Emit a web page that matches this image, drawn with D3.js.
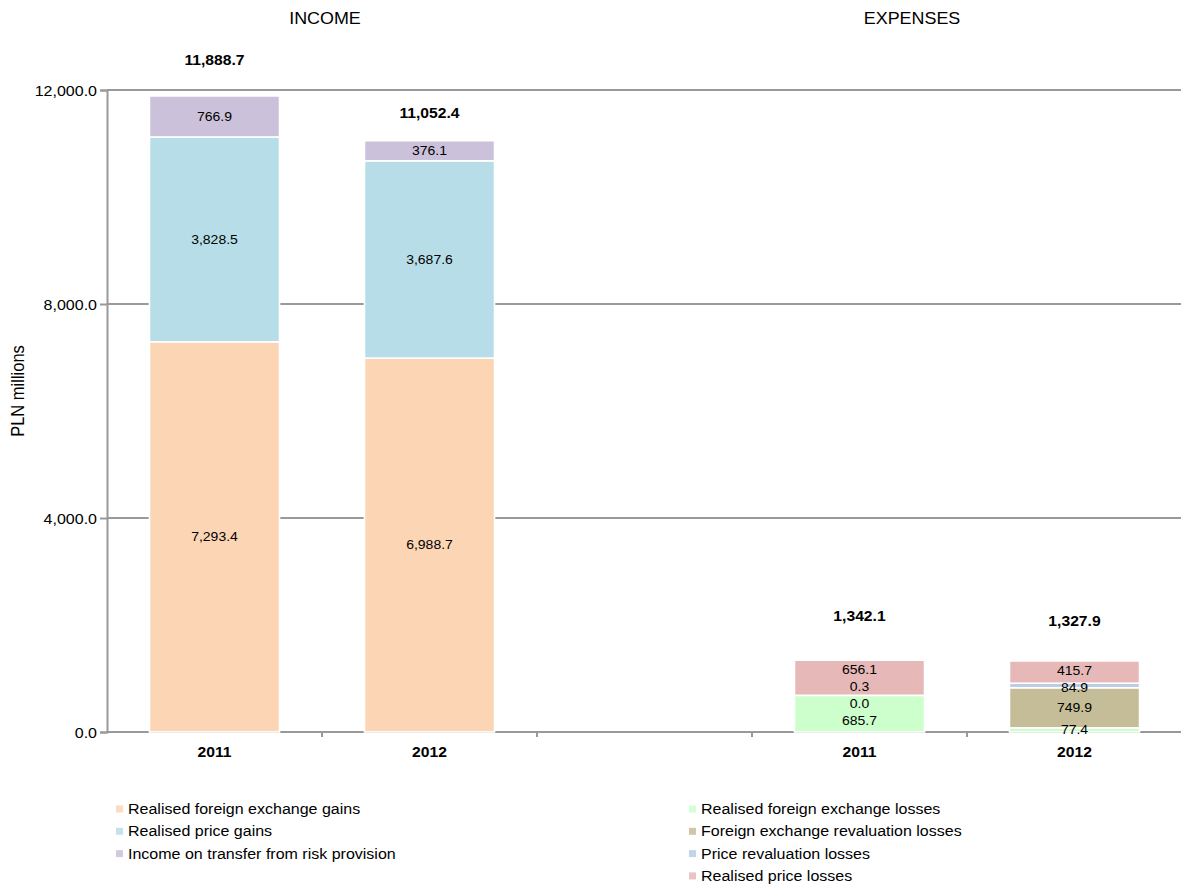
<!DOCTYPE html>
<html>
<head>
<meta charset="utf-8">
<script src="https://cdn.jsdelivr.net/npm/d3@7"></script>
<style>
  html, body { margin: 0; padding: 0; background: #fff; }
  svg { display: block; }
  text { font-family: "Liberation Sans", Arial, sans-serif; fill: #000; }
</style>
</head>
<body>
<svg id="chart" width="1181" height="887"></svg>
<script>
// ---- data (PLN millions) ----
const years = ["2011", "2012"];

const incomeSeries = [
  "Realised foreign exchange gains",
  "Realised price gains",
  "Income on transfer from risk provision"
];
const realisedFxGains     = [7293.4, 6988.7];
const realisedPriceGains  = [3828.5, 3687.6];
const riskProvisionIncome = [766.9, 376.1];
const incomeTotals        = [11888.7, 11052.4];

const expenseSeries = [
  "Realised foreign exchange losses",
  "Foreign exchange revaluation losses",
  "Price revaluation losses",
  "Realised price losses"
];
const realisedFxLosses       = [685.7, 77.4];
const fxRevaluationLosses    = [0.0, 749.9];
const priceRevaluationLosses = [0.3, 84.9];
const realisedPriceLosses    = [656.1, 415.7];
const expenseTotals          = [1342.1, 1327.9];

const groupTitles = ["INCOME", "EXPENSES"];
const yTicks = [0, 4000, 8000, 12000];
const yTitle = "PLN millions";

// ---- styling / layout ----
const incomeColors  = ["#FCD5B5", "#B7DEE8", "#CCC1DA"];
const expenseColors = ["#CCFFCC", "#C4BD97", "#B9CDE5", "#E6B9B8"];
const TEXT_STRETCH = 1.12;          // glyphs are drawn slightly wide
const totalLabelLift = [36, 27, 44, 40]; // px above each stack top
const titleX = [325, 912];
const labelGap = 17;                // min spacing of in-bar labels

const svg = d3.select("#chart");
const W = 1181, H = 887;
const plot = { left: 107, right: 1182, top: 90, bottom: 732 };

// one slot per bar, plus an empty slot separating income and expenses
const slots = [
  ...years.map((y, i) => ({ key: "inc-" + y, year: y, idx: i, group: "income" })),
  { key: "gap", group: null },
  ...years.map((y, i) => ({ key: "exp-" + y, year: y, idx: i, group: "expense" }))
];

const x = d3.scaleBand()
  .domain(slots.map(s => s.key))
  .range([plot.left, plot.right])
  .paddingInner(0.395)
  .paddingOuter(0.1975);

const y = d3.scaleLinear().domain([0, 12000]).range([plot.bottom, plot.top]);

const fmt = d3.format(",.1f");

function stretchedText(sel, tx, ty, extra) {
  return sel.attr("transform", `translate(${tx},${ty}) scale(${TEXT_STRETCH},1)` + (extra || ""));
}

// ---- gridlines & axes ----
const gridColor = "#999999";
svg.append("g").selectAll("line.grid")
  .data(yTicks.filter(t => t > 0))
  .join("line")
  .attr("x1", plot.left).attr("x2", W)
  .attr("y1", d => y(d)).attr("y2", d => y(d))
  .attr("stroke", gridColor).attr("stroke-width", 2);

const yAxis = d3.axisLeft(y).tickValues(yTicks).tickFormat(fmt).tickSize(7).tickPadding(4);
const yG = svg.append("g").attr("transform", `translate(${plot.left},0)`).call(yAxis);
yG.attr("font-family", null).attr("font-size", null);
yG.select(".domain").attr("stroke", gridColor).attr("stroke-width", 2);
yG.selectAll(".tick line").attr("stroke", gridColor).attr("stroke-width", 2);
yG.selectAll(".tick text")
  .attr("x", null).attr("dy", null)
  .attr("text-anchor", "end").attr("dominant-baseline", "central")
  .style("font-size", "14.3px")
  .attr("transform", `translate(-10,0) scale(${TEXT_STRETCH},1)`);

// x baseline + tick marks at slot boundaries
svg.append("line")
  .attr("x1", plot.left).attr("x2", W)
  .attr("y1", plot.bottom).attr("y2", plot.bottom)
  .attr("stroke", gridColor).attr("stroke-width", 2);
svg.append("g").selectAll("line")
  .data(slots.slice(1))
  .join("line")
  .attr("x1", d => x(d.key) - x.step() * x.paddingInner() / 2)
  .attr("x2", d => x(d.key) - x.step() * x.paddingInner() / 2)
  .attr("y1", plot.bottom).attr("y2", plot.bottom + 5)
  .attr("stroke", gridColor).attr("stroke-width", 2);

// x category labels
svg.append("g").selectAll("text")
  .data(slots.filter(s => s.group))
  .join("text")
  .each(function (d) { stretchedText(d3.select(this), x(d.key) + x.bandwidth() / 2, 752); })
  .attr("text-anchor", "middle").attr("dominant-baseline", "central")
  .style("font-size", "14px").style("font-weight", "bold")
  .text(d => d.year);

// y axis title
svg.append("text")
  .attr("transform", `translate(18,391) scale(${TEXT_STRETCH},1) rotate(-90)`)
  .attr("text-anchor", "middle").attr("dominant-baseline", "central")
  .style("font-size", "16.5px")
  .text(yTitle);

// group titles
svg.append("g").selectAll("text")
  .data(groupTitles)
  .join("text")
  .each(function (d, i) { stretchedText(d3.select(this), titleX[i], 19); })
  .attr("text-anchor", "middle").attr("dominant-baseline", "central")
  .style("font-size", "16px")
  .text(d => d);

// ---- stacked bars ----
const incomeValues  = [realisedFxGains, realisedPriceGains, riskProvisionIncome];
const expenseValues = [realisedFxLosses, fxRevaluationLosses, priceRevaluationLosses, realisedPriceLosses];

function buildStacks(group, valuesBySeries, colors, totals) {
  return years.map((yr, i) => {
    let base = 0;
    const segs = valuesBySeries.map((vals, s) => {
      const seg = { y0: base, y1: base + vals[i], value: vals[i], color: colors[s] };
      base += vals[i];
      return seg;
    });
    return { key: (group === "income" ? "inc-" : "exp-") + yr, segs, top: base, total: totals[i] };
  });
}

const stacks = [
  ...buildStacks("income", incomeValues, incomeColors, incomeTotals),
  ...buildStacks("expense", expenseValues, expenseColors, expenseTotals)
];

// spread in-bar labels so neighbours never collide (cluster merging)
function spreadLabels(centers, gap) {
  // centers are in screen y, bottom segment first (largest y)
  let clusters = centers.map((c, i) => ({ ids: [i], mean: c }));
  const pos = cl => cl.ids.map((_, k) => cl.mean + ((cl.ids.length - 1) / 2 - k) * gap);
  let merged = true;
  while (merged) {
    merged = false;
    for (let k = 0; k < clusters.length - 1; k++) {
      const a = clusters[k], b = clusters[k + 1];
      const pa = pos(a), pb = pos(b);
      if (pa[pa.length - 1] - pb[0] < gap) {
        const ids = a.ids.concat(b.ids);
        const mean = d3.mean(ids, id => centers[id]);
        clusters.splice(k, 2, { ids, mean });
        merged = true;
        break;
      }
    }
  }
  const out = [];
  clusters.forEach(cl => pos(cl).forEach((p, k) => { out[cl.ids[k]] = p; }));
  return out;
}

const barG = svg.append("g");
stacks.forEach((st, si) => {
  const g = barG.append("g");
  g.selectAll("rect")
    .data(st.segs)
    .join("rect")
    .attr("x", x(st.key))
    .attr("width", x.bandwidth())
    .attr("y", d => y(d.y1))
    .attr("height", d => y(d.y0) - y(d.y1))
    .attr("fill", d => d.color)
    .attr("stroke", "#ffffff")
    .attr("stroke-width", 1.6);

  const centers = st.segs.map(d => (y(d.y0) + y(d.y1)) / 2);
  const ly = spreadLabels(centers, labelGap);
  const cx = x(st.key) + x.bandwidth() / 2;
  g.selectAll("text.seg")
    .data(st.segs)
    .join("text")
    .attr("class", "seg")
    .each(function (d, i) { stretchedText(d3.select(this), cx, ly[i]); })
    .attr("text-anchor", "middle").attr("dominant-baseline", "central")
    .style("font-size", "12.5px")
    .text(d => fmt(d.value));

  stretchedText(g.append("text"), cx, y(st.top) - totalLabelLift[si])
    .attr("text-anchor", "middle").attr("dominant-baseline", "central")
    .style("font-size", "14px").style("font-weight", "bold")
    .text(fmt(st.total));
});

// ---- legend ----
const legendCols = [
  { names: incomeSeries, colors: incomeColors, x: 116 },
  { names: expenseSeries, colors: expenseColors, x: 689 }
];
const legendRowY = d3.scaleLinear().domain([0, 1]).range([809, 831.3]);
legendCols.forEach(col => {
  const lg = svg.append("g");
  const items = lg.selectAll("g").data(col.names).join("g");
  items.append("rect")
    .attr("x", col.x).attr("y", (d, i) => legendRowY(i) - 3.5)
    .attr("width", 7).attr("height", 7)
    .attr("fill", (d, i) => col.colors[i]).attr("opacity", 0.85);
  items.append("text")
    .each(function (d, i) { stretchedText(d3.select(this), col.x + 12, legendRowY(i)); })
    .attr("dominant-baseline", "central")
    .style("font-size", "14.3px")
    .text(d => d);
});
</script>
</body>
</html>
